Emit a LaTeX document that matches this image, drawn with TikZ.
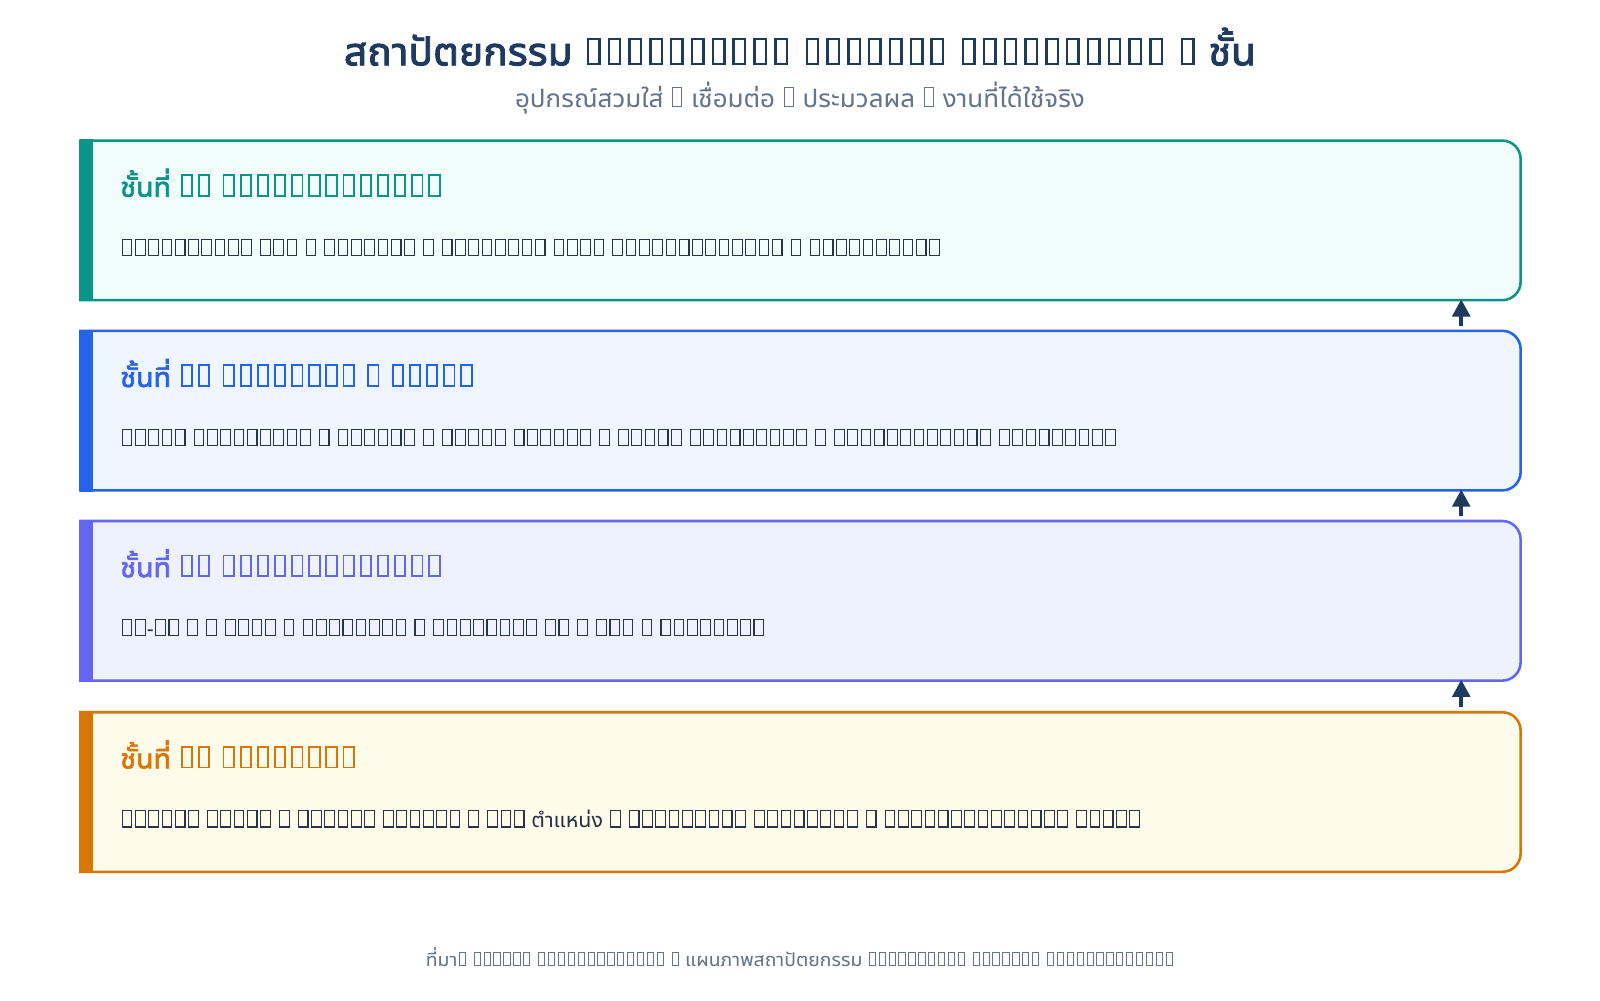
\documentclass[tikz,border=0pt]{standalone}
\usepackage{fontspec}
\setmainfont[Script=Thai, AutoFakeBold=2.2]{Noto Sans Thai UI}
\newfontfamily\latinfont{Noto Sans}
\usetikzlibrary{arrows.meta,positioning,calc}
\definecolor{titlecolor}{RGB}{30, 58, 95}
\definecolor{subcolor}{RGB}{100, 116, 139}
\definecolor{textcolor}{RGB}{40, 52, 72}
\definecolor{tealcolor}{RGB}{13, 148, 136}
\definecolor{tealfill}{RGB}{240, 253, 250}
\definecolor{bluecolor}{RGB}{37, 99, 235}
\definecolor{bluefill}{RGB}{239, 246, 255}
\definecolor{indigocolor}{RGB}{99, 102, 241}
\definecolor{indigofill}{RGB}{238, 242, 255}
\definecolor{ambercolor}{RGB}{217, 119, 6}
\definecolor{amberfill}{RGB}{254, 251, 234}

% empty glyph box, as the reference prints it
% \tofuset{side gap}{line}{height}{inner width}
\newcommand\tofuset[4]{\def\tofug{#1}\def\tofur{#2}\def\tofuh{#3}\def\tofui{#4}}
\tofuset{.06em}{.05em}{.8em}{.4em}
\newcommand\tofu{\kern\tofug\hbox{\vrule width \tofur
  \vbox to \tofuh{\hrule height \tofur\vfil\hbox to \tofui{}\hrule height \tofur}%
  \vrule width \tofur}\kern\tofug}
\newcommand\tf[1]{\foreach \k in {1,...,#1}{\tofu}}
% layer outline: square on the left, rounded on the right
\newcommand\layerframe[3]{%
  \draw[line width=2.5pt, draw=#2, fill=#3] (#1.north west) -- ([xshift=-18pt]#1.north east)
    arc[start angle=90, end angle=0, radius=18pt] -- ([yshift=18pt]#1.south east)
    arc[start angle=0, end angle=-90, radius=18pt] -- (#1.south west) -- cycle;
  \fill[#2] ([yshift=1.25pt]#1.north west) rectangle ([xshift=12pt, yshift=-1.25pt]#1.south west);}

\begin{document}
\begin{tikzpicture}[x=1pt, y=1pt,
                layer/.style={minimum width=1411pt, minimum height=156pt, inner sep=0pt},
                heading/.style={anchor=base west, inner sep=0pt, font={\bfseries\fontsize{28}{34}\selectfont\tofuset{.085em}{.065em}{.79em}{.3em}}},
                body/.style={anchor=base west, inner sep=0pt, text=textcolor, font=\fontsize{21}{25}\selectfont},
                arrow/.style={-{Triangle[length=17pt, width=17pt]}, line width=4.2pt, draw=titlecolor}]

                \fill[white] (0,0) rectangle (1568,980);
                \useasboundingbox (0,0) rectangle (1568,980);

                % Title
                \node[anchor=base, inner sep=0pt, text=titlecolor, font={\bfseries\fontsize{40}{48}\selectfont\tofuset{.085em}{.06em}{.68em}{.22em}}] (title) at (784,916)
                    {สถาปัตยกรรม \tf{10} \tf{7} \tf{10} \tf{1} ชั้น};
                \node[anchor=base, inner sep=0pt, text=subcolor, font={\fontsize{25.5}{30}\selectfont\tofuset{.075em}{.04em}{.76em}{.31em}}] (subtitle) at (784,875)
                    {อุปกรณ์สวมใส่ \tf{1} เชื่อมต่อ \tf{1} ประมวลผล \tf{1} งานที่ได้ใช้จริง};

                % Layers
                \node[layer] (L1) at (784.5,764) {};
                \node[layer, below=30pt of L1] (L2) {};
                \node[layer, below=30pt of L2] (L3) {};
                \node[layer, below=31pt of L3] (L4) {};
                \layerframe{L1}{tealcolor}{tealfill}
                \layerframe{L2}{bluecolor}{bluefill}
                \layerframe{L3}{indigocolor}{indigofill}
                \layerframe{L4}{ambercolor}{amberfill}

                % Layer 1
                \node[heading, text=tealcolor] (h1) at ([xshift=39pt, yshift=-55pt]L1.north west)
                    {ชั้นที่ \tf{2} \tf{13}};
                \node[body] (b1) at ([xshift=39pt, yshift=-113pt]L1.north west)
                    {\tf{10} \tf{3} \tf{1} \tf{7} \tf{1} \tf{8} \tf{4} \tf{13} \tf{1} \tf{10}};

                % Layer 2
                \node[heading, text=bluecolor] (h2) at ([xshift=39pt, yshift=-55pt]L2.north west)
                    {ชั้นที่ \tf{2} \tf{8} \tf{1} \tf{5}};
                \node[body] (b2) at ([xshift=39pt, yshift=-113pt]L2.north west)
                    {\tf{5} \tf{9} \tf{1} \tf{6} \tf{1} \tf{5} \tf{6} \tf{1} \tf{5} \tf{9} \tf{1} \tf{12} \tf{9}};

                % Layer 3
                \node[heading, text=indigocolor] (h3) at ([xshift=39pt, yshift=-55pt]L3.north west)
                    {ชั้นที่ \tf{2} \tf{13}};
                \node[body] (b3) at ([xshift=39pt, yshift=-113pt]L3.north west)
                    {\tf{2}{\latinfont -}\tf{2} \tf{1} \tf{1} \tf{4} \tf{1} \tf{8} \tf{1} \tf{8} \tf{2} \tf{1} \tf{3} \tf{1} \tf{8}};

                % Layer 4
                \node[heading, text=ambercolor] (h4) at ([xshift=39pt, yshift=-55pt]L4.north west)
                    {ชั้นที่ \tf{2} \tf{8}};
                \node[body] (b4) at ([xshift=39pt, yshift=-113pt]L4.north west)
                    {\tf{6} \tf{5} \tf{1} \tf{6} \tf{6} \tf{1} \tf{3} ตำแหน่ง \tf{1} \tf{9} \tf{8} \tf{1} \tf{14} \tf{5}};

                % Upward flow
                \draw[arrow] ([xshift=647.5pt, yshift=5pt]L2.north) -- ([xshift=647.5pt, yshift=1pt]L1.south);
                \draw[arrow] ([xshift=647.5pt, yshift=5pt]L3.north) -- ([xshift=647.5pt, yshift=1pt]L2.south);
                \draw[arrow] ([xshift=647.5pt, yshift=5pt]L4.north) -- ([xshift=647.5pt, yshift=1pt]L3.south);

                % Source
                \node[anchor=base, inner sep=0pt, text=subcolor, font={\fontsize{19}{23}\selectfont\tofuset{.07em}{.045em}{.74em}{.28em}}] (source) at (784,33)
                    {ที่มา\tf{1} \tf{6} \tf{13} \tf{1} แผนภาพสถาปัตยกรรม \tf{10} \tf{7} \tf{13}};

            \end{tikzpicture}
\end{document}
